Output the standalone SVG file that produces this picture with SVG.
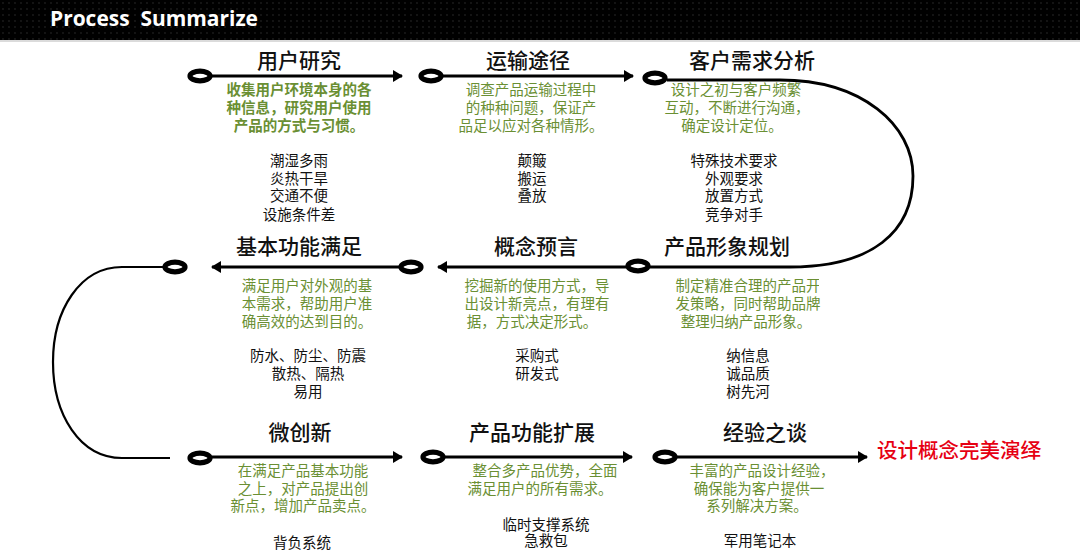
<svg xmlns="http://www.w3.org/2000/svg" width="1080" height="556" viewBox="0 0 1080 556">
<defs>
<pattern id="dots" width="6" height="6" patternUnits="userSpaceOnUse">
<rect width="6" height="6" fill="#000"/>
<circle cx="3" cy="3" r="0.9" fill="#1c1c1c"/>
</pattern>
<marker id="ah" viewBox="0 0 10 12" refX="9" refY="6" markerWidth="10" markerHeight="12" markerUnits="userSpaceOnUse" orient="auto">
<path d="M0,0 L10,6 L0,12 Z" fill="#000"/>
</marker>
<clipPath id="cut"><rect x="600" y="270" width="219" height="40"/></clipPath>
</defs>
<style>
.ring{fill:none;stroke:#000;stroke-width:5.2}
.arr{stroke:#000;stroke-width:3;fill:none}
.crv{stroke:#000;fill:none}
.t{font-family:"Noto Sans CJK SC","Noto Sans",sans-serif;font-size:21px;font-weight:500;fill:#111;text-anchor:middle}
.g{font-family:"Noto Sans CJK SC","Noto Sans",sans-serif;font-size:14.5px;fill:#6a8f33;text-anchor:middle}
.gb{font-weight:bold}
.l{font-family:"Noto Sans CJK SC","Noto Sans",sans-serif;font-size:14.5px;fill:#111;text-anchor:middle}
</style>
<rect x="0" y="0" width="1080" height="40" fill="url(#dots)"/>
<line x1="0" y1="41" x2="1080" y2="41" stroke="#cfcfcf" stroke-width="1.5"/>
<text x="50" y="26" font-family="'Open Sans','Liberation Sans',sans-serif" font-weight="bold" font-size="22" fill="#fff" textLength="208" lengthAdjust="spacingAndGlyphs" style="white-space:pre">Process  Summarize</text>

<g id="connectors">
<line class="arr" x1="212" y1="76" x2="402" y2="76" marker-end="url(#ah)"/>
<line class="arr" x1="442" y1="76" x2="633" y2="76" marker-end="url(#ah)"/>
<path class="crv" stroke-width="2.8" d="M667 80 L780 80 C862 80 913 125 913 176 C913 232 872 267 790 267 L650 267"/>
<line class="arr" x1="626" y1="267" x2="438" y2="267" marker-end="url(#ah)"/>
<line class="arr" x1="399" y1="267" x2="212" y2="267" marker-end="url(#ah)"/>
<path class="crv" stroke-width="2.2" d="M163 267 L122 267 C80 267 53 310 53 362 C53 415 80 458 122 458 L170 458"/>
<line class="arr" x1="212" y1="457" x2="402" y2="457" marker-end="url(#ah)"/>
<line class="arr" x1="445" y1="457" x2="632" y2="457" marker-end="url(#ah)"/>
<line class="arr" x1="677" y1="457" x2="867" y2="457" marker-end="url(#ah)"/>
</g>

<g id="n1">
<ellipse class="ring" cx="200" cy="76" rx="10" ry="4.8"/>
<text class="t" x="299" y="68">用户研究</text>
<text class="g gb" x="299" y="95">收集用户环境本身的各</text>
<text class="g gb" x="299" y="113">种信息，研究用户使用</text>
<text class="g gb" x="299" y="131">产品的方式与习惯。</text>
<text class="l" x="299" y="166">潮湿多雨</text>
<text class="l" x="299" y="184">炎热干旱</text>
<text class="l" x="299" y="201">交通不便</text>
<text class="l" x="299" y="220">设施条件差</text>
</g>

<g id="n2">
<ellipse class="ring" cx="431" cy="76" rx="10" ry="4.8"/>
<text class="t" x="528" y="68">运输途径</text>
<text class="g" x="531" y="95">调查产品运输过程中</text>
<text class="g" x="531" y="113">的种种问题，保证产</text>
<text class="g" x="531" y="131">品足以应对各种情形。</text>
<text class="l" x="532" y="166">颠簸</text>
<text class="l" x="532" y="184">搬运</text>
<text class="l" x="532" y="201">叠放</text>
</g>

<g id="n3">
<ellipse class="ring" cx="655" cy="78" rx="10" ry="4.8"/>
<text class="t" x="752" y="68">客户需求分析</text>
<text class="g" x="736" y="95">设计之初与客户频繁</text>
<text class="g" x="737" y="113">互动，不断进行沟通，</text>
<text class="g" x="732" y="131">确定设计定位。</text>
<text class="l" x="734" y="166">特殊技术要求</text>
<text class="l" x="734" y="184">外观要求</text>
<text class="l" x="734" y="201">放置方式</text>
<text class="l" x="734" y="220">竞争对手</text>
</g>

<g id="n4">
<ellipse class="ring" cx="638" cy="266" rx="10" ry="4.8"/>
<text class="t" x="727" y="254">产品形象规划</text>
<text class="g" x="748" y="291" clip-path="url(#cut)">制定精准合理的产品开</text>
<text class="g" x="748" y="309">发策略，同时帮助品牌</text>
<text class="g" x="746" y="327">整理归纳产品形象。</text>
<text class="l" x="748" y="361">纳信息</text>
<text class="l" x="748" y="379">诚品质</text>
<text class="l" x="748" y="397">树先河</text>
</g>

<g id="n5">
<ellipse class="ring" cx="411" cy="267" rx="10" ry="4.8"/>
<text class="t" x="536" y="254">概念预言</text>
<text class="g" x="537" y="291">挖掘新的使用方式，导</text>
<text class="g" x="537" y="309">出设计新亮点，有理有</text>
<text class="g" x="532" y="327">据，方式决定形式。</text>
<text class="l" x="537" y="361">采购式</text>
<text class="l" x="537" y="379">研发式</text>
</g>

<g id="n6">
<ellipse class="ring" cx="175" cy="267" rx="10" ry="4.8"/>
<text class="t" x="299" y="254">基本功能满足</text>
<text class="g" x="307" y="291">满足用户对外观的基</text>
<text class="g" x="307" y="309">本需求，帮助用户准</text>
<text class="g" x="307" y="327">确高效的达到目的。</text>
<text class="l" x="308" y="361">防水、防尘、防震</text>
<text class="l" x="308" y="379">散热、隔热</text>
<text class="l" x="308" y="397">易用</text>
</g>

<g id="n7">
<ellipse class="ring" cx="200" cy="458" rx="10" ry="4.8"/>
<text class="t" x="300" y="440">微创新</text>
<text class="g" x="303" y="476">在满足产品基本功能</text>
<text class="g" x="303" y="494">之上，对产品提出创</text>
<text class="g" x="303" y="511">新点，增加产品卖点。</text>
<text class="l" x="302" y="548">背负系统</text>
</g>

<g id="n8">
<ellipse class="ring" cx="433" cy="457" rx="10" ry="4.8"/>
<text class="t" x="532" y="440">产品功能扩展</text>
<text class="g" x="545" y="476">整合多产品优势，全面</text>
<text class="g" x="540" y="494">满足用户的所有需求。</text>
<text class="l" x="546" y="530">临时支撑系统</text>
<text class="l" x="546" y="546">急救包</text>
</g>

<g id="n9">
<ellipse class="ring" cx="665" cy="457" rx="10" ry="4.8"/>
<text class="t" x="765" y="440">经验之谈</text>
<text class="g" x="762" y="476">丰富的产品设计经验，</text>
<text class="g" x="759" y="494">确保能为客户提供一</text>
<text class="g" x="757" y="511">系列解决方案。</text>
<text class="l" x="760" y="546">军用笔记本</text>
</g>

<g id="n10">
<text x="877" y="458" font-family="'Noto Sans CJK SC','Noto Sans',sans-serif" font-size="20.5" font-weight="500" fill="#e60012">设计概念完美演绎</text>
</g>
</svg>
